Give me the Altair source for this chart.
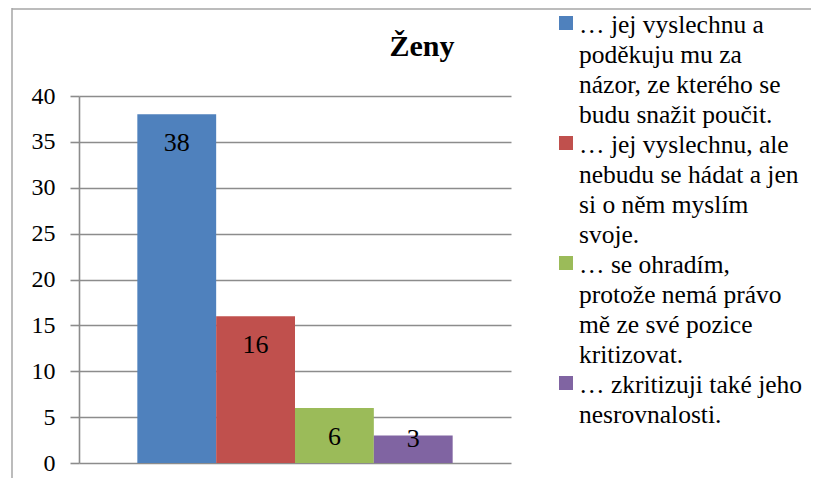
import altair as alt
import pandas as pd

# ---- data ----
title_text = "Ženy"
categories = [
    "… jej vyslechnu a|poděkuju mu za|názor, ze kterého se|budu snažit poučit.",
    "… jej vyslechnu, ale|nebudu se hádat a jen|si o něm myslím|svoje.",
    "… se ohradím,|protože nemá právo|mě ze své pozice|kritizovat.",
    "… zkritizuji také jeho|nesrovnalosti.",
]
values = [38, 16, 6, 3]
colors = ["#4F81BD", "#C0504D", "#9BBB59", "#8064A2"]
y_ticks = [0, 5, 10, 15, 20, 25, 30, 35, 40]

df = pd.DataFrame({"odpoved": categories, "pocet": values})
one = pd.DataFrame({"k": [0]})

# legend lines (one row per wrapped line of each category)
rows = []
g = 0
for c in categories:
    for j, line in enumerate(c.split("|")):
        rows.append({"odpoved": c, "radek": line, "g": g, "prvni": j == 0})
        g += 1
leg = pd.DataFrame(rows)
n_lines = len(rows)

FONT = "Liberation Serif"
W, H = 432, 367
PAD_L, PAD_T, PAD_R, PAD_B = 71, 88, 300, 15
GRID = "#8c8c8c"
FRAME = "#a6a6a6"
LINE_PITCH = 30
FIRST_BASE = -63

color_scale = alt.Scale(domain=categories, range=colors)
x_enc = alt.X("odpoved:N", sort=categories, axis=None,
              scale=alt.Scale(paddingInner=0, paddingOuter=0.74))
y_scale = alt.Scale(domain=[0, 40], nice=False)

bars = alt.Chart(df).mark_bar().encode(
    x=x_enc,
    y=alt.Y("pocet:Q", scale=y_scale,
            axis=alt.Axis(values=y_ticks, title=None, grid=True, gridColor=GRID,
                          gridWidth=1.6, domainColor=GRID, domainWidth=1.6,
                          tickColor=GRID, tickWidth=1.6, tickSize=9,
                          labelFont=FONT, labelFontSize=24, labelColor="black",
                          labelPadding=15)),
    color=alt.Color("odpoved:N", scale=color_scale, legend=None),
)

labels = alt.Chart(df).transform_calculate(
    ly="max(datum.pocet, 5.8)"
).mark_text(font=FONT, fontSize=26, baseline="middle", dy=29, color="black").encode(
    x=x_enc,
    y=alt.Y("ly:Q", scale=y_scale),
    text=alt.Text("pocet:Q"),
)

plot = alt.layer(bars, labels)

leg_y_scale = alt.Scale(domain=[0, n_lines - 1],
                        range=[FIRST_BASE, FIRST_BASE + LINE_PITCH * (n_lines - 1)],
                        nice=False, zero=False)

leg_text = alt.Chart(leg).mark_text(font=FONT, fontSize=25.5, align="left",
                                    baseline="alphabetic", color="black").encode(
    x=alt.value(500),
    y=alt.Y("g:Q", scale=leg_y_scale, axis=None),
    text="radek:N",
)

leg_sym = alt.Chart(leg).transform_filter("datum.prvni").transform_calculate(
    gs="datum.g - 0.333"
).mark_square(size=196, opacity=1, strokeWidth=0).encode(
    x=alt.value(487),
    y=alt.Y("gs:Q", scale=leg_y_scale, axis=None),
    color=alt.Color("odpoved:N", scale=color_scale, legend=None),
)

legend = alt.layer(leg_text, leg_sym)

title = alt.Chart(one).mark_text(font=FONT, fontSize=30, fontWeight="bold",
                                 align="center", baseline="alphabetic",
                                 color="black").encode(
    x=alt.value(343), y=alt.value(-40), text=alt.value(title_text))

frame_left = alt.Chart(one).mark_rule(color=FRAME, strokeWidth=1.5).encode(
    x=alt.value(-67), y=alt.value(-PAD_T), y2=alt.value(H + PAD_B))
frame_top = alt.Chart(one).mark_rule(color=FRAME, strokeWidth=1.5).encode(
    x=alt.value(-67), x2=alt.value(W + PAD_R), y=alt.value(-PAD_T + 1))

chart = alt.layer(plot, legend, title, frame_left, frame_top).resolve_scale(
    y="independent"
).properties(
    width=W, height=H,
    autosize=alt.AutoSizeParams(type="none"),
    padding={"left": PAD_L, "top": PAD_T, "right": PAD_R, "bottom": PAD_B},
).configure_view(stroke=None)

chart.save("out.html", embed_options={"renderer": "svg", "actions": False})
